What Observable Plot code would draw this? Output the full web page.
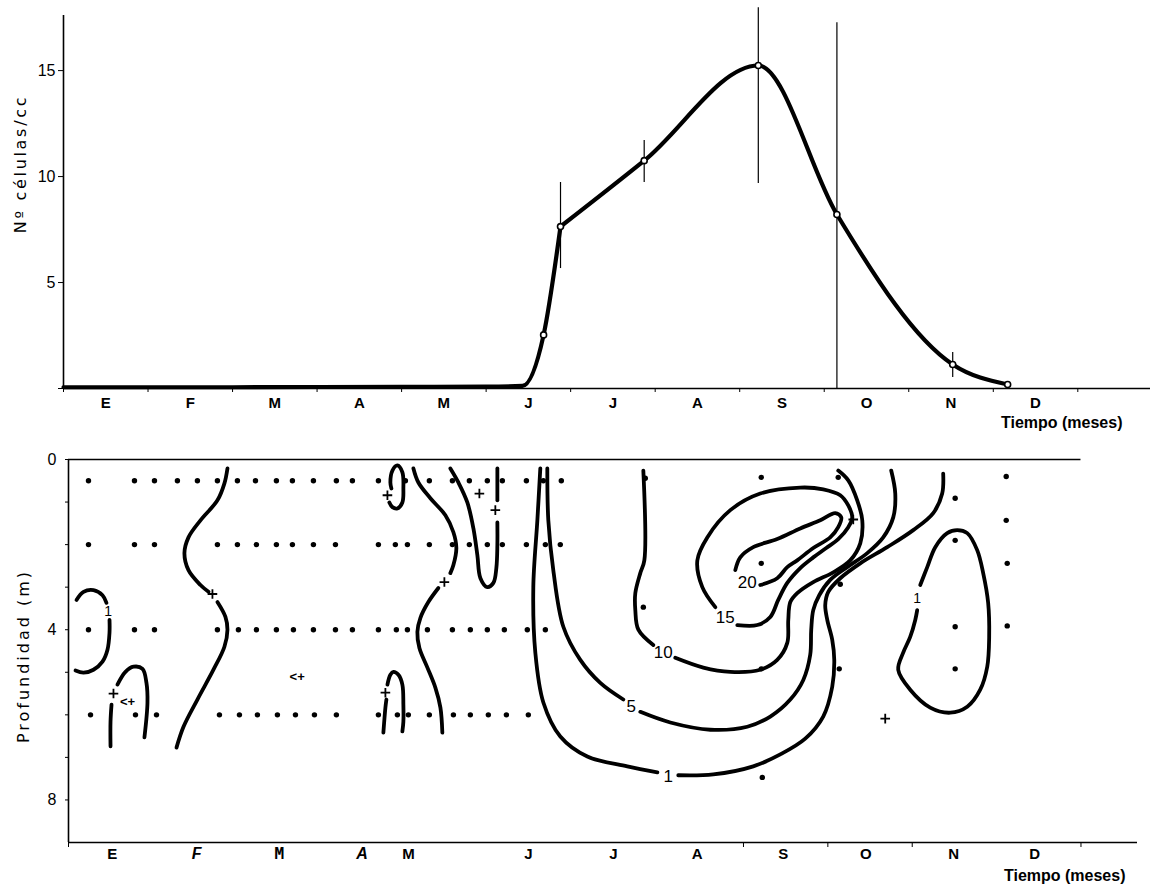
<!DOCTYPE html>
<html><head><meta charset="utf-8">
<script src="https://cdn.jsdelivr.net/npm/d3@7"></script>
<script src="https://cdn.jsdelivr.net/npm/@observablehq/plot@0.6"></script>
<style>
body{margin:0;background:#fff;}
#chart{width:1152px;}
#chart svg{display:block;}
</style></head><body><div id="chart"></div>
<script>
// ---------- shared ----------
const monthLetters = ["E","F","M","A","M","J","J","A","S","O","N","D"];
const monthBounds = [0,1,2,3,4,5,6,7,8,9,10,11,12];
const topLabelPos = [0.5,1.5,2.5,3.5,4.5,5.5,6.5,7.5,8.5,9.5,10.5,11.5];

// ---------- top panel: Nº células/cc ----------
const topMonths = [0, 1, 2, 3, 4, 5, 5.43, 5.68, 5.88, 6.87, 8.22, 9.15, 10.52, 11.17];
const topCells  = [0.06, 0.06, 0.06, 0.07, 0.08, 0.09, 0.12, 2.53, 7.64, 10.75, 15.24, 8.21, 1.13, 0.19];
const sampledFrom = 7; // circles drawn from this index on
const cornerIndex = 8; // the drawn curve has a corner at this sample
const errMonths = [5.88, 6.87, 8.22, 9.15, 10.52];
const errLow    = [5.66, 9.72, 9.67, 0.0, 0.52];
const errHigh   = [9.72, 11.70, 17.97, 17.26, 1.70];
const topYTicks = [0, 5, 10, 15];

// ---------- bottom panel: Profundidad ----------
const bottomLabelPos = [0.52,1.52,2.50,3.48,4.03,5.45,6.46,7.45,8.47,9.45,10.49,11.45];
const bottomTicks = [0, 8, 9, 10, 12];
const depthTicks = [0,1,2,3,4,5,6,7,8];
const rowDepths = [0.5, 2, 4, 6];
const row05 = [0.237,0.782,1.019,1.291,1.528,1.765,2.002,2.216,2.464,2.654,2.903,3.175,3.365,3.673,3.993,4.277,4.550,4.751,4.964,5.142,5.427,5.628,5.841];
const row2  = [0.237,0.782,1.019,1.765,2.002,2.227,2.464,2.654,2.903,3.164,3.673,3.874,4.017,4.277,4.550,4.751,4.964,5.142,5.427,5.652,5.829];
const row4  = [0.237,0.782,1.019,1.765,2.014,2.227,2.464,2.666,2.903,3.164,3.365,3.673,3.886,4.017,4.254,4.550,4.763,4.964,5.166,5.438,5.652];
const row6  = [0.261,0.794,1.043,1.789,2.026,2.239,2.476,2.690,2.915,3.175,3.673,3.898,4.028,4.277,4.562,4.763,4.976,5.190,5.450];
const extraSamples = [[8.211,0.42],[9.123,0.42],[8.211,2.44],[9.147,2.93],[8.211,4.92],[9.135,4.92],[8.223,7.47],
  [10.509,0.91],[10.509,1.90],[10.509,3.93],[10.509,4.92],[11.114,0.40],[11.114,1.43],[11.126,2.44],[11.126,3.91],
  [6.813,3.47],[6.836,0.44]];
const plusSamples = [[0.533,5.50],[1.706,3.16],[3.780,0.84],[3.756,5.48],[4.455,2.88],[5.059,1.19],[4.870,0.80],[9.301,1.41],[9.680,6.09]];
const arrowNotes = [["<+",0.70,5.69],["<+",2.71,5.11]];

// isolines (month, depth)
const isolines = [
  ["e1a",[[0.095,3.30],[0.178,3.11],[0.296,3.07],[0.403,3.19],[0.450,3.37]]],
  ["e1b",[[0.486,3.77],[0.486,4.07],[0.462,4.47],[0.403,4.75],[0.296,4.94],[0.178,5.01],[0.083,4.96]]],
  ["e2a",[[0.498,6.74],[0.498,6.16],[0.510,5.76]]],
  ["e2b",[[0.580,5.29],[0.675,4.99],[0.770,4.87],[0.877,4.92],[0.924,5.25],[0.936,5.71],[0.900,6.53]]],
  ["fa",[[1.884,0.21],[1.848,0.56],[1.765,0.96],[1.564,1.43],[1.422,1.83],[1.374,2.20],[1.422,2.60],[1.564,2.95],[1.659,3.11]]],
  ["fb",[[1.765,3.35],[1.860,3.70],[1.884,4.00],[1.848,4.40],[1.718,4.94],[1.528,5.64],[1.363,6.28],[1.280,6.77]]],
  ["m1",[[3.827,0.68],[3.815,0.54],[3.839,0.26],[3.898,0.14],[3.957,0.30],[3.969,0.68],[3.957,1.01],[3.898,1.15],[3.839,1.12],[3.803,1.01]]],
  ["m2a",[[3.732,6.42],[3.756,5.83],[3.768,5.64]]],
  ["m2b",[[3.780,5.29],[3.815,5.06],[3.851,4.99],[3.910,5.06],[3.957,5.29],[3.969,5.76],[3.969,6.16],[3.957,6.39]]],
  ["m3a",[[4.088,0.21],[4.147,0.54],[4.289,0.91],[4.467,1.31],[4.562,1.71],[4.597,2.08],[4.562,2.48],[4.526,2.67]]],
  ["m3b",[[4.384,3.02],[4.265,3.35],[4.171,3.72],[4.135,4.05],[4.159,4.43],[4.254,4.89],[4.348,5.36],[4.408,5.83],[4.431,6.42]]],
  ["m4a",[[4.526,0.21],[4.621,0.54],[4.727,1.01],[4.799,1.62],[4.846,2.25],[4.882,2.79],[4.964,3.00],[5.036,2.90],[5.071,2.55],[5.083,2.01],[5.083,1.48]]],
  ["m4b",[[5.083,0.96],[5.083,0.21]]],
  ["c1a",[[5.592,0.21],[5.557,1.43],[5.509,3.00],[5.533,4.54],[5.628,5.71],[5.829,6.51],[6.149,6.98],[6.623,7.21],[6.979,7.35]]],
  ["c1b",[[7.227,7.42],[7.642,7.40],[8.116,7.21],[8.436,6.93],[8.732,6.56],[8.945,6.04],[9.052,5.34],[9.076,4.71],[9.052,4.24],[8.993,3.77],[8.969,3.42],[9.005,3.11],[9.147,2.79],[9.384,2.44],[9.704,2.06],[10.012,1.66],[10.249,1.26],[10.355,0.80],[10.367,0.33]]],
  ["c5a",[[5.675,0.21],[5.687,1.43],[5.746,2.60],[5.865,3.93],[6.066,4.71],[6.303,5.25],[6.576,5.64]]],
  ["c5b",[[6.777,5.93],[7.133,6.18],[7.607,6.35],[8.045,6.28],[8.318,6.04],[8.555,5.64],[8.709,5.18],[8.791,4.59],[8.803,4.00],[8.827,3.54],[8.898,3.19],[9.028,2.83],[9.229,2.53],[9.467,2.20],[9.656,1.83],[9.775,1.36],[9.799,0.80],[9.751,0.26]]],
  ["c10a",[[6.813,0.26],[6.825,2.37],[6.777,2.67],[6.718,3.14],[6.718,3.54],[6.754,4.00],[6.931,4.36]]],
  ["c10b",[[7.192,4.66],[7.524,4.89],[7.844,4.99],[8.199,4.94],[8.400,4.71],[8.519,4.31],[8.531,3.77],[8.555,3.35],[8.637,3.14],[8.827,2.88],[9.064,2.65],[9.265,2.37],[9.384,1.97],[9.408,1.43],[9.348,0.96],[9.242,0.49],[9.123,0.26]]],
  ["c15",[[7.666,3.47],[7.512,3.00],[7.453,2.37],[7.571,1.83],[7.844,1.19],[8.199,0.80],[8.673,0.66],[8.945,0.70],[9.147,0.84],[9.242,1.08],[9.289,1.36],[9.242,1.59],[9.123,1.87],[8.981,2.08],[8.827,2.30],[8.673,2.55],[8.519,2.90],[8.412,3.30],[8.318,3.70],[8.164,3.89],[7.927,3.89]]],
  ["c20",[[7.903,2.60],[7.962,2.30],[8.116,2.06],[8.400,1.87],[8.673,1.62],[8.910,1.43],[9.088,1.26],[9.159,1.36],[9.123,1.59],[9.028,1.83],[8.827,2.08],[8.637,2.37],[8.519,2.53],[8.400,2.79],[8.199,2.95]]],
  ["cN",[[10.059,3.54],[10.036,3.77],[9.976,4.17],[9.893,4.54],[9.834,4.94],[9.976,5.41],[10.213,5.83],[10.450,5.95],[10.652,5.81],[10.806,5.41],[10.889,4.87],[10.912,4.17],[10.900,3.37],[10.841,2.67],[10.770,2.13],[10.652,1.73],[10.533,1.66],[10.415,1.73],[10.273,2.06],[10.178,2.53],[10.095,2.95]]]
];
const isoLabels = [["1",0.47,3.58,14],["1",7.109,7.45,17],["5",6.671,5.81,17],["10",7.050,4.54,17],["15",7.784,3.72,17],["20",8.045,2.90,17],["1",10.059,3.26,14]];

// ---------- build tables ----------
const topSeries = topMonths.map((m,i)=>({m, v: topCells[i]}));
const topErr = errMonths.map((m,i)=>({m, lo: errLow[i], hi: errHigh[i]}));
const isoRows = isolines.flatMap(([id, pts]) => pts.map(([m,d]) => ({id, m, d})));
const depthRows = [row05, row2, row4, row6];
const samples = depthRows.flatMap((r,i)=> r.map(m => ({m, d: rowDepths[i]}))).concat(extraSamples.map(([m,d])=>({m,d})));
const pluses = plusSamples.map(([m,d])=>({m,d}));
const font = "Liberation Sans, Arial, sans-serif";
const labelFont = "DejaVu Sans, sans-serif";
const lineStyle = {x: "m", y: "v", curve: "monotone-x", stroke: "#000", strokeWidth: 4.2, strokeLinejoin: "round", strokeLinecap: "round"};
const yTitleTop = "Nº células/cc";
const yTitleBottom = "Profundidad (m)";

const topChart = Plot.plot({
  width: 1152, height: 440,
  marginLeft: 63, marginRight: 2, marginTop: 15, marginBottom: 52,
  style: {fontFamily: font, fontSize: "14px", color: "#000", background: "#fff", overflow: "visible"},
  x: {domain: [0, 12.86]},
  y: {domain: [0, 17.6]},
  marks: [
    Plot.ruleY([0], {stroke: "#000", strokeWidth: 1.6}),
    Plot.ruleX([0], {stroke: "#000", strokeWidth: 1.6}),
    Plot.axisY({ticks: topYTicks, tickFormat: d => d === 0 ? "" : String(d), tickSize: 5, tickPadding: 3, fontSize: 16, label: null}),
    Plot.axisX({ticks: monthBounds, tickFormat: () => "", tickSize: 4, tickPadding: 0, label: null}),
    Plot.text(monthLetters, {x: (d,i) => topLabelPos[i], text: d => d, frameAnchor: "bottom", dy: 19, fontSize: 15, fontWeight: "bold"}),
    Plot.text(["Tiempo (meses)"], {frameAnchor: "bottom-right", dx: -28, dy: 39, textAnchor: "end", fontSize: 16, fontWeight: "bold"}),
    Plot.text([yTitleTop], {frameAnchor: "left", textAnchor: "middle", dx: -43, dy: -38, rotate: -90, fontSize: 16, fontFamily: labelFont}),
    Plot.ruleX(topErr, {x: "m", y1: "lo", y2: "hi", stroke: "#000", strokeWidth: 1.2}),
    Plot.line(topSeries.slice(0, cornerIndex + 1), lineStyle),
    Plot.line(topSeries.slice(cornerIndex), lineStyle),
    Plot.dot(topSeries.slice(sampledFrom), {x: "m", y: "v", r: 3, fill: "#fff", stroke: "#000", strokeWidth: 1.6})
  ]
});

const italicIdx = [1, 3];
const monoIdx = [2];
const bottomLabelRows = monthLetters.map((t,i)=>({t, m: bottomLabelPos[i], style: italicIdx.includes(i) ? "italic" : monoIdx.includes(i) ? "mono" : "plain"}));

const bottomChart = Plot.plot({
  width: 1152, height: 452,
  marginLeft: 68, marginRight: 15, marginTop: 19, marginBottom: 50,
  style: {fontFamily: font, fontSize: "14px", color: "#000", background: "#fff", overflow: "visible"},
  x: {domain: [0, 12.67]},
  y: {domain: [0, 9], reverse: true},
  marks: [
    Plot.ruleX([0], {stroke: "#000", strokeWidth: 1.6}),
    Plot.ruleY([9], {stroke: "#000", strokeWidth: 1.6}),
    Plot.ruleY([0], {x1: 0, x2: 12, stroke: "#000", strokeWidth: 1.5}),
    Plot.axisY({ticks: depthTicks, tickFormat: d => d % 4 === 0 ? String(d) : "", tickSize: 3, tickPadding: 9, fontSize: 16, label: null}),
    Plot.axisX({ticks: bottomTicks, tickFormat: () => "", tickSize: 5, tickPadding: 0, label: null}),
    Plot.text(bottomLabelRows.filter(d => d.style === "plain"), {x: "m", text: "t", frameAnchor: "bottom", dy: 16, fontSize: 15, fontWeight: "bold"}),
    Plot.text(bottomLabelRows.filter(d => d.style === "italic"), {x: "m", text: "t", frameAnchor: "bottom", dy: 16, fontSize: 16, fontStyle: "italic", fontWeight: "bold"}),
    Plot.text(bottomLabelRows.filter(d => d.style === "mono"), {x: "m", text: "t", frameAnchor: "bottom", dy: 16, fontSize: 16, fontFamily: "DejaVu Sans Mono, monospace", fontWeight: "bold"}),
    Plot.text(["Tiempo (meses)"], {frameAnchor: "bottom-right", dx: -12, dy: 38, textAnchor: "end", fontSize: 16, fontWeight: "bold"}),
    Plot.text([yTitleBottom], {frameAnchor: "left", textAnchor: "middle", dx: -45, dy: 5, rotate: -90, fontSize: 16, fontFamily: labelFont}),
    Plot.line(isoRows, {x: "m", y: "d", z: "id", curve: "catmull-rom", stroke: "#000", strokeWidth: 3.8, strokeLinecap: "round", strokeLinejoin: "round"}),
    Plot.dot(samples, {x: "m", y: "d", r: 2.7, fill: "#000"}),
    Plot.dot(pluses, {x: "m", y: "d", symbol: "plus", r: 3.2, stroke: "#000", strokeWidth: 1.8}),
    Plot.text(arrowNotes, {x: d => d[1], y: d => d[2], text: d => d[0], fontSize: 13, fontWeight: "bold"}),
    Plot.text(isoLabels, {x: d => d[1], y: d => d[2], text: d => d[0], fontSize: d => d[3], fill: "#000"})
  ]
});

// widen the spaced-out axis titles like the original lettering
const spacing = {[yTitleTop]: "2.7px", [yTitleBottom]: "3px"};
for (const svg of [topChart, bottomChart]) {
  svg.querySelectorAll("text").forEach(t => {
    if (spacing[t.textContent]) t.style.letterSpacing = spacing[t.textContent];
  });
}

document.getElementById("chart").append(topChart, bottomChart);
</script></body></html>
